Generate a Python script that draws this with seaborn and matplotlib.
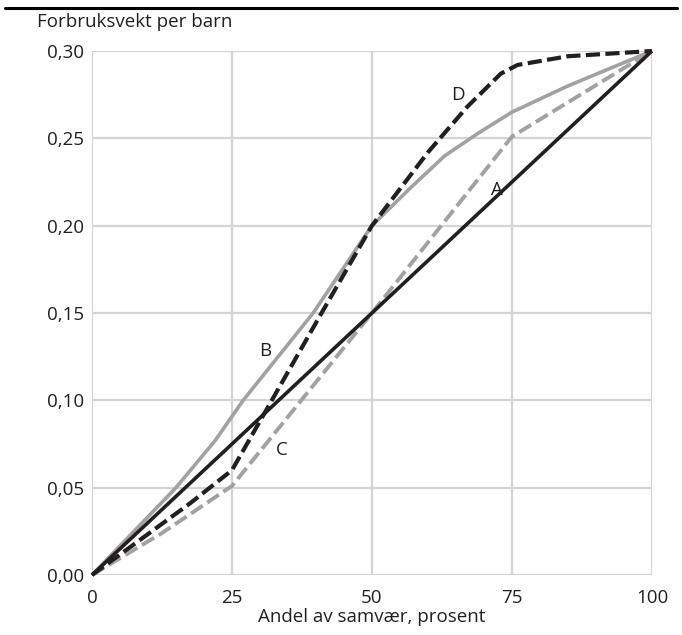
import numpy as np
import seaborn as sns
import matplotlib.pyplot as plt
from matplotlib.ticker import FuncFormatter

# data
a_x = [0, 100]
a_y = [0.0, 0.30]

b_x = [0, 15, 22, 27, 34, 39.5, 50, 57, 63, 69, 75, 85, 100]
b_y = [0.0, 0.050, 0.077, 0.100, 0.128, 0.150, 0.200, 0.222, 0.240, 0.253, 0.265, 0.280, 0.300]

c_x = [0, 12.5, 25, 50, 75, 100]
c_y = [0.0, 0.024, 0.051, 0.150, 0.251, 0.300]

d_x = [0, 17.5, 25, 41, 50, 60, 67, 73, 76, 85, 100]
d_y = [0.0, 0.041, 0.060, 0.150, 0.200, 0.242, 0.268, 0.287, 0.292, 0.297, 0.300]

labels = ['A', 'B', 'C', 'D']
label_x = [72.3, 30.9, 33.9, 65.4]
label_y = [0.2205, 0.128, 0.0716, 0.275]

x_ticks = [0, 25, 50, 75, 100]
y_ticks = [0.0, 0.05, 0.10, 0.15, 0.20, 0.25, 0.30]

BLACK = '#231f20'
GRAY = '#a2a2a2'
FS = 13.5

sns.set_style('white')
plt.rcParams['font.family'] = ['Open Sans', 'DejaVu Sans']
plt.rcParams['font.size'] = FS

fig = plt.figure(figsize=(6.82, 6.35), dpi=100)
ax = fig.add_axes([0.1349, 0.0945, 0.821, 0.8252])

sns.lineplot(x=b_x, y=b_y, ax=ax, color=GRAY, lw=2.6, sort=False)
sns.lineplot(x=c_x, y=c_y, ax=ax, color=GRAY, lw=2.8, sort=False)
ax.lines[-1].set_dashes((3.6, 1.4))
sns.lineplot(x=a_x, y=a_y, ax=ax, color=BLACK, lw=2.6, sort=False)
sns.lineplot(x=d_x, y=d_y, ax=ax, color=BLACK, lw=3.0, sort=False)
ax.lines[-1].set_dashes((3.4, 1.3))
for ln in ax.lines:
    ln.set_clip_on(False)
    ln.set_solid_capstyle('butt')

for lab, lx, ly in zip(labels, label_x, label_y):
    ax.text(lx, ly, lab, ha='center', va='center', fontsize=FS, color=BLACK)

ax.set_xlim(0, 100)
ax.set_ylim(0, 0.30)
ax.set_xticks(x_ticks)
ax.set_yticks(y_ticks)
ax.yaxis.set_major_formatter(FuncFormatter(lambda v, p: f'{v:.2f}'.replace('.', ',')))
ax.grid(True, color='#d4d4d4', lw=1.6)
ax.set_axisbelow(True)
for s in ax.spines.values():
    s.set_visible(False)
ax.tick_params(axis='y', length=0, labelsize=FS, colors=BLACK, pad=6)
ax.tick_params(axis='x', length=0, labelsize=FS, colors=BLACK, pad=10)
for t in ax.get_yticklabels():
    t.set_va('center_baseline')
ax.set_xlabel('Andel av samvær, prosent', fontsize=FS, color=BLACK, labelpad=1)
ax.set_ylabel('')

fig.text(0.054, 0.965, 'Forbruksvekt per barn', fontsize=FS, color=BLACK, ha='left', va='center')
fig.add_artist(plt.Line2D([0.008, 0.992], [0.987, 0.987], color='black', lw=2.2,
                          transform=fig.transFigure))

fig.savefig('out.png', dpi=100)
